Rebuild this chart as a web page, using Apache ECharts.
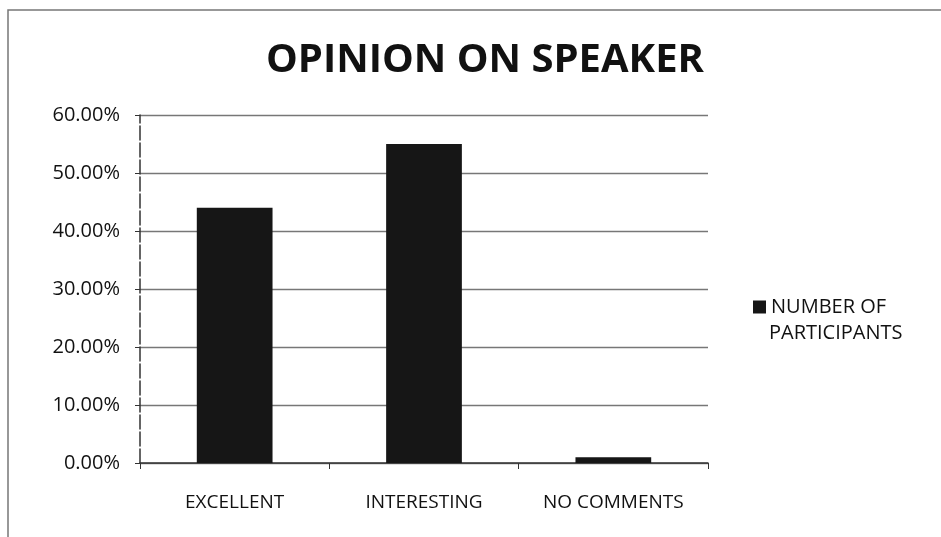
<!DOCTYPE html>
<html><head><meta charset="utf-8">
<script src="https://cdn.jsdelivr.net/npm/echarts@6/dist/echarts.min.js"></script>
<style>html,body{margin:0;padding:0;background:#fff}#c{width:941px;height:537px}</style>
</head><body><div id="c"></div>
<script>
const categories = ['EXCELLENT', 'INTERESTING', 'NO COMMENTS'];
const values = [44, 55, 1];
const seriesName = 'NUMBER OF PARTICIPANTS';
const legendLines = ['NUMBER OF', 'PARTICIPANTS'];
const titleText = 'OPINION ON SPEAKER';

const chart = echarts.init(document.getElementById('c'));
chart.setOption({
  animation: false,
  backgroundColor: '#fff',
  graphic: [{
    type: 'rect', shape: {x: 8, y: 10, width: 1000, height: 600},
    style: {fill: 'none', stroke: '#777', lineWidth: 1.5}
  }, {
    type: 'text', left: 769, top: 323,
    style: {text: legendLines[1], font: '20px "Open Sans"', fill: '#111'}
  }],
  title: {
    text: titleText, left: 480, top: 36, textAlign: 'center',
    textStyle: {fontFamily: 'Open Sans', fontWeight: 'bold', fontSize: 40, color: '#111'}
  },
  legend: {
    orient: 'vertical', left: 748, top: 292,
    itemWidth: 13, itemHeight: 13, icon: 'rect',
    formatter: () => legendLines[0],
    textStyle: {fontFamily: 'Open Sans', fontSize: 20, color: '#111'},
    data: [seriesName]
  },
  grid: {left: 140, right: 233, top: 115, bottom: 74},
  xAxis: {
    type: 'category', data: categories,
    axisLine: {lineStyle: {color: '#333', width: 1.5}},
    axisTick: {show: true, interval: 0, length: 6, lineStyle: {color: '#333'}},
    axisLabel: {interval: 0, hideOverlap: false, fontFamily: 'Open Sans', fontSize: 19, color: '#111', margin: 30}
  },
  yAxis: {
    type: 'value', min: 0, max: 60, interval: 10,
    axisLine: {show: true, lineStyle: {color: '#333', width: 1.5, type: [14, 3]}},
    axisTick: {show: true, inside: false, length: 5, lineStyle: {color: '#333'}},
    splitLine: {lineStyle: {color: '#777', width: 1.3}},
    axisLabel: {fontFamily: 'Open Sans', fontSize: 20, color: '#111', margin: 20,
      formatter: v => v.toFixed(2) + '%'}
  },
  series: [{
    name: seriesName, type: 'bar', data: values, barWidth: '40%',
    itemStyle: {color: '#161616'}
  }]
});
</script></body></html>
